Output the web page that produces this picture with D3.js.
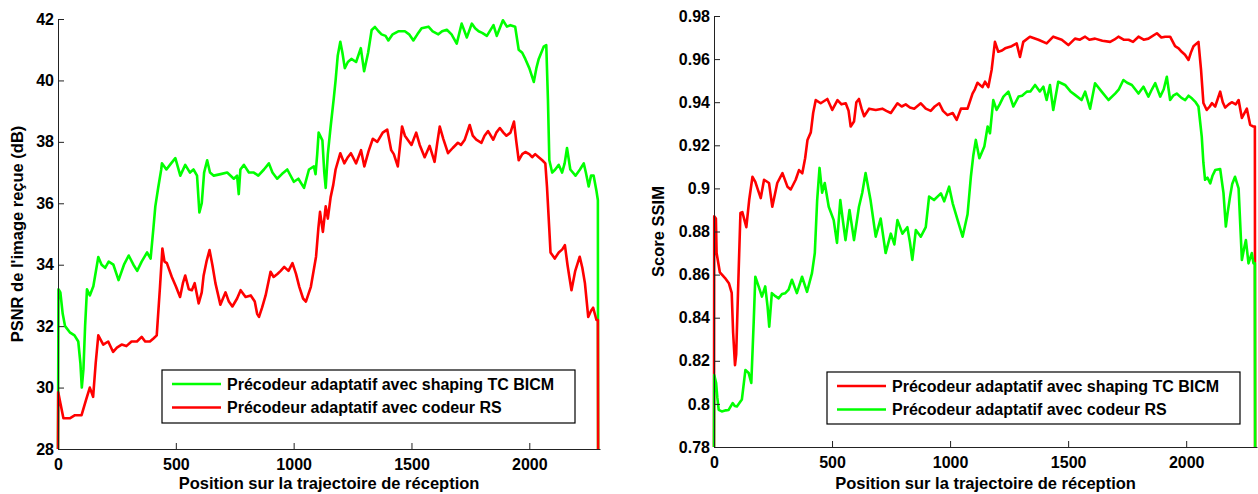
<!DOCTYPE html>
<html>
<head>
<meta charset="utf-8">
<script src="https://cdn.jsdelivr.net/npm/d3@7"></script>
<style>
	body { margin: 0; background: #fff; }
	text { font-family: "Liberation Sans", Arial, sans-serif; font-weight: bold; }
</style>
</head>
<body>
<div id="fig"></div>
<script>
// valeurs : [position, valeur]
var xTicks= [0, 500, 1000, 1500, 2000];
var psnrTicks= [28, 30, 32, 34, 36, 38, 40, 42];
var ssimTicks= [0.78, 0.80, 0.82, 0.84, 0.86, 0.88, 0.90, 0.92, 0.94, 0.96, 0.98];

var nomTC= "Précodeur adaptatif avec shaping TC BICM";
var nomRS= "Précodeur adaptatif avec codeur RS";

var psnrTC= [[0,28],[2,33.2],[10,33.1],[20,32.4],[30,32.0],[50,31.8],[70,31.7],[86,31.5],[95,30.8],[101,30.0],[108,30.6],[115,32.0],[123,33.2],[135,33.0],[150,33.3],[171,34.25],[185,34.0],[200,33.9],[215,34.1],[235,34.0],[257,33.5],[280,34.0],[300,34.3],[320,34.0],[336,33.8],[355,34.1],[378,34.4],[393,34.2],[405,35.2],[413,35.9],[425,36.5],[438,37.1],[441,37.3],[460,37.1],[480,37.3],[498,37.47],[519,36.9],[540,37.25],[560,37.0],[575,37.1],[590,36.9],[600,35.7],[610,36.0],[620,37.0],[633,37.4],[645,37.0],[661,36.9],[690,36.95],[718,37.0],[746,36.8],[760,36.9],[767,36.3],[774,37.1],[789,37.25],[810,37.0],[831,37.0],[850,36.9],[874,37.1],[895,37.3],[910,37.0],[930,36.8],[950,36.95],[973,37.1],[1001,36.7],[1020,36.8],[1044,36.5],[1065,37.1],[1086,37.2],[1093,36.95],[1100,37.6],[1106,38.3],[1122,38.05],[1130,37.0],[1136,36.5],[1145,37.6],[1157,38.5],[1170,39.4],[1178,40.0],[1187,40.8],[1198,41.26],[1207,40.9],[1217,40.4],[1230,40.6],[1245,40.7],[1265,40.6],[1285,41.05],[1299,40.3],[1316,40.9],[1331,41.64],[1345,41.74],[1360,41.6],[1373,41.5],[1390,41.45],[1402,41.3],[1420,41.5],[1444,41.6],[1472,41.6],[1490,41.5],[1508,41.3],[1525,41.5],[1543,41.7],[1572,41.75],[1590,41.6],[1614,41.5],[1630,41.6],[1650,41.65],[1670,41.5],[1692,41.2],[1713,41.85],[1735,41.4],[1756,41.85],[1770,41.7],[1785,41.6],[1800,41.55],[1820,41.45],[1848,41.8],[1862,41.45],[1888,41.96],[1905,41.75],[1920,41.8],[1940,41.75],[1955,41.0],[1970,40.9],[1983,40.7],[2000,40.4],[2019,39.95],[2030,40.4],[2040,40.7],[2061,41.1],[2072,41.15],[2079,39.4],[2085,37.4],[2097,37.0],[2110,37.1],[2125,37.25],[2139,37.0],[2150,37.3],[2160,37.8],[2174,37.1],[2196,36.9],[2215,37.1],[2231,37.3],[2240,37.0],[2252,36.55],[2262,36.9],[2273,36.9],[2285,36.4],[2291,36.1],[2292,28]];

var psnrRS= [[0,28],[1,29.85],[10,29.5],[23,29.0],[50,29.0],[72,29.1],[100,29.1],[119,29.6],[135,30.0],[149,29.7],[160,30.8],[171,31.7],[192,31.4],[213,31.5],[234,31.16],[250,31.3],[270,31.4],[290,31.35],[312,31.5],[335,31.5],[355,31.65],[370,31.5],[390,31.5],[405,31.6],[419,31.7],[433,33.3],[443,34.53],[452,34.1],[462,34.05],[483,33.6],[500,33.3],[518,32.95],[530,33.4],[540,33.65],[555,33.2],[568,33.17],[580,33.4],[597,32.74],[610,33.1],[618,33.65],[630,34.1],[643,34.48],[655,34.0],[668,33.4],[689,32.7],[711,33.1],[725,32.8],[740,32.64],[760,32.9],[775,33.17],[796,32.95],[818,33.0],[835,32.8],[845,32.4],[853,32.3],[866,32.6],[881,33.0],[902,33.77],[915,33.6],[931,33.7],[945,33.8],[960,33.93],[978,33.8],[995,34.05],[1010,33.7],[1024,33.28],[1040,32.9],[1052,32.8],[1073,33.28],[1095,34.26],[1105,35.2],[1112,35.72],[1124,35.07],[1136,35.9],[1145,35.5],[1157,36.2],[1168,36.6],[1178,37.1],[1198,37.63],[1215,37.3],[1230,37.5],[1243,37.63],[1265,37.3],[1286,37.73],[1300,37.2],[1318,37.7],[1336,38.1],[1355,38.0],[1378,38.3],[1397,38.4],[1414,37.73],[1425,37.6],[1442,37.2],[1460,38.5],[1472,38.2],[1484,38.07],[1500,37.9],[1520,38.3],[1535,37.9],[1556,37.5],[1577,37.87],[1598,37.35],[1610,38.0],[1620,38.5],[1635,38.1],[1655,37.63],[1675,37.8],[1697,37.97],[1710,37.9],[1726,38.07],[1747,38.55],[1760,38.2],[1775,38.07],[1797,37.97],[1810,38.2],[1825,38.35],[1847,38.07],[1860,38.3],[1875,38.45],[1890,38.3],[1903,38.2],[1920,38.3],[1935,38.66],[1945,38.0],[1955,37.4],[1970,37.6],[1983,37.67],[2000,37.6],[2012,37.5],[2025,37.6],[2040,37.5],[2055,37.4],[2068,37.3],[2075,36.54],[2085,35.13],[2090,34.4],[2108,34.2],[2125,34.4],[2140,34.5],[2151,34.64],[2162,34.0],[2170,33.6],[2179,33.17],[2195,33.8],[2214,34.26],[2225,33.9],[2236,33.4],[2250,32.3],[2262,32.5],[2271,32.6],[2285,32.2],[2291,32.2],[2292,28]];

var ssimTC= [[0,0.78],[1,0.887],[8,0.886],[11,0.87],[25,0.861],[46,0.8585],[63,0.856],[75,0.8515],[81,0.833],[89,0.818],[94,0.823],[102,0.853],[112,0.8886],[120,0.889],[137,0.882],[149,0.8946],[163,0.9054],[175,0.903],[184,0.900],[198,0.8955],[212,0.904],[233,0.9025],[247,0.8915],[268,0.9025],[290,0.9071],[311,0.9008],[325,0.8995],[346,0.904],[360,0.9085],[374,0.907],[386,0.914],[396,0.9225],[410,0.926],[420,0.935],[431,0.941],[452,0.9395],[480,0.9415],[501,0.9364],[523,0.941],[540,0.939],[558,0.9395],[570,0.936],[579,0.9287],[593,0.931],[603,0.94],[614,0.9415],[625,0.937],[636,0.9335],[657,0.937],[685,0.9364],[713,0.937],[730,0.936],[749,0.935],[777,0.9395],[795,0.938],[812,0.939],[830,0.9375],[848,0.937],[876,0.9395],[897,0.937],[918,0.936],[935,0.938],[954,0.9395],[970,0.936],[989,0.934],[1011,0.935],[1028,0.9318],[1046,0.937],[1074,0.937],[1095,0.944],[1105,0.946],[1116,0.949],[1137,0.947],[1148,0.9495],[1162,0.947],[1176,0.955],[1190,0.968],[1204,0.9634],[1220,0.964],[1233,0.965],[1261,0.966],[1282,0.9673],[1296,0.961],[1310,0.968],[1338,0.9704],[1374,0.969],[1409,0.9673],[1437,0.9704],[1473,0.969],[1501,0.9665],[1529,0.9695],[1550,0.969],[1572,0.9704],[1590,0.969],[1614,0.9695],[1645,0.9685],[1678,0.968],[1695,0.969],[1713,0.9704],[1735,0.969],[1756,0.969],[1775,0.968],[1798,0.9704],[1820,0.969],[1840,0.9695],[1876,0.972],[1895,0.970],[1911,0.9704],[1932,0.9704],[1953,0.966],[1968,0.965],[1981,0.9634],[1995,0.962],[2010,0.9596],[2020,0.963],[2031,0.966],[2052,0.968],[2063,0.955],[2073,0.9396],[2087,0.9364],[2100,0.938],[2109,0.9396],[2123,0.938],[2144,0.9449],[2155,0.94],[2165,0.9375],[2180,0.939],[2193,0.940],[2210,0.939],[2222,0.941],[2236,0.9327],[2257,0.937],[2271,0.9295],[2285,0.9287],[2291,0.9287],[2292,0.78]];

var ssimRS= [[0,0.78],[1,0.8134],[9,0.8097],[14,0.803],[20,0.7972],[33,0.7965],[50,0.797],[62,0.7972],[79,0.8004],[88,0.799],[97,0.7988],[118,0.802],[133,0.8157],[147,0.8143],[158,0.8097],[168,0.8376],[175,0.859],[189,0.8545],[203,0.8498],[217,0.8545],[227,0.845],[234,0.8358],[245,0.8514],[260,0.85],[274,0.849],[288,0.851],[302,0.8514],[316,0.853],[330,0.8576],[351,0.8514],[373,0.859],[394,0.852],[415,0.8607],[427,0.87],[437,0.8946],[447,0.9095],[458,0.898],[469,0.9025],[486,0.8915],[507,0.8853],[521,0.8747],[535,0.8946],[546,0.885],[557,0.876],[574,0.89],[593,0.876],[614,0.8915],[628,0.898],[642,0.9071],[663,0.8946],[685,0.8776],[706,0.886],[727,0.87],[749,0.879],[764,0.874],[777,0.8853],[798,0.879],[819,0.882],[830,0.875],[840,0.8668],[855,0.8807],[876,0.8776],[897,0.882],[911,0.8962],[932,0.8946],[961,0.8977],[975,0.894],[996,0.9008],[1011,0.8931],[1032,0.8853],[1053,0.8776],[1074,0.888],[1088,0.9054],[1098,0.915],[1109,0.9225],[1124,0.914],[1145,0.9194],[1159,0.9287],[1169,0.9256],[1183,0.941],[1197,0.9364],[1210,0.939],[1226,0.9426],[1247,0.9449],[1268,0.938],[1290,0.9426],[1305,0.943],[1325,0.9449],[1340,0.945],[1360,0.948],[1380,0.945],[1395,0.9472],[1409,0.941],[1423,0.948],[1437,0.9364],[1458,0.9495],[1487,0.948],[1510,0.945],[1529,0.9434],[1557,0.941],[1572,0.9449],[1593,0.937],[1614,0.9488],[1642,0.9449],[1671,0.941],[1699,0.944],[1715,0.946],[1734,0.9503],[1750,0.949],[1770,0.948],[1798,0.944],[1819,0.9472],[1840,0.9426],[1855,0.946],[1869,0.9488],[1890,0.9426],[1905,0.946],[1918,0.9518],[1932,0.941],[1945,0.943],[1960,0.944],[1980,0.942],[1996,0.941],[2010,0.943],[2024,0.9418],[2040,0.940],[2052,0.938],[2066,0.924],[2073,0.9118],[2080,0.904],[2090,0.905],[2102,0.9023],[2112,0.906],[2123,0.9085],[2144,0.909],[2158,0.8979],[2168,0.8823],[2176,0.889],[2186,0.8963],[2195,0.902],[2207,0.9054],[2222,0.9],[2236,0.8668],[2245,0.872],[2253,0.876],[2264,0.8652],[2278,0.870],[2285,0.8652],[2291,0.8652],[2292,0.78]];

var W= 1258, H= 494;
var vert= "#00ff00", rouge= "#ff0000";

var svg= d3.select("#fig").append("svg")
	.attr("width", W)
	.attr("height", H);

function panel(p) {
	var x= d3.scaleLinear().domain([0, 2300]).range([p.left, p.right]);
	var y= d3.scaleLinear().domain(p.yDomain).range([p.bottom, p.top]);

	var g= svg.append("g");

	var line= d3.line()
		.x(function(d) { return x(d[0]); })
		.y(function(d) { return y(d[1]); });

	// courbes (la deuxième par-dessus)
	p.series.forEach(function(s) {
		g.append("path")
			.datum(s.data)
			.attr("fill", "none")
			.attr("stroke", s.color)
			.attr("stroke-width", 2.6)
			.attr("stroke-linejoin", "round")
			.attr("d", line);
	});

	var ax= g.append("g")
		.attr("transform", "translate(0," + p.bottom + ")")
		.call(d3.axisBottom(x).tickValues(xTicks).tickSizeInner(-6).tickSizeOuter(0).tickPadding(10).tickFormat(d3.format("d")));
	var ay= g.append("g")
		.attr("transform", "translate(" + p.left + ",0)")
		.call(d3.axisLeft(y).tickValues(p.yTicks).tickSizeInner(-6).tickSizeOuter(0).tickPadding(4).tickFormat(p.fmt));

	[ax, ay].forEach(function(a) {
		a.select(".domain").attr("stroke", "#222");
		a.selectAll(".tick line").attr("stroke", "#222");
		a.selectAll("text").attr("fill", "#000").style("font-size", "16px");
	});

	g.append("text")
		.attr("x", (p.left+ p.right)/2)
		.attr("y", 489)
		.attr("text-anchor", "middle")
		.style("font-size", "16.5px")
		.text("Position sur la trajectoire de réception");

	g.append("text")
		.attr("transform", "translate(" + p.yLabelX + "," + ((p.top+ p.bottom)/2) + ") rotate(-90)")
		.attr("text-anchor", "middle")
		.attr("dy", "0.35em")
		.style("font-size", "16.5px")
		.text(p.yLabel);

	// légende
	var L= p.legend;
	g.append("rect")
		.attr("x", L.x).attr("y", L.y)
		.attr("width", L.w).attr("height", L.h)
		.attr("fill", "#fff")
		.attr("stroke", "#000")
		.attr("stroke-width", 1.2);

	p.series.forEach(function(s, i) {
		var yy= L.y+ 14+ i*23.5;
		g.append("line")
			.attr("x1", L.x+ 10).attr("x2", L.x+ 59)
			.attr("y1", yy).attr("y2", yy)
			.attr("stroke", s.color)
			.attr("stroke-width", 2.6);
		g.append("text")
			.attr("x", L.x+ 65)
			.attr("y", yy)
			.attr("dy", "0.35em")
			.style("font-size", "16px")
			.text(s.name);
	});
}

panel({
	left: 58, right: 600, top: 19, bottom: 449,
	yDomain: [28, 42], yTicks: psnrTicks,
	fmt: d3.format("d"),
	yLabel: "PSNR de l'image reçue (dB)", yLabelX: 17,
	legend: {x: 162, y: 370, w: 413, h: 53},
	series: [
		{name: nomTC, color: vert, data: psnrTC},
		{name: nomRS, color: rouge, data: psnrRS}
	]
});

panel({
	left: 714, right: 1257, top: 16, bottom: 447,
	yDomain: [0.78, 0.98], yTicks: ssimTicks,
	fmt: function(d) { return String(+d.toFixed(2)); },
	yLabel: "Score SSIM", yLabelX: 658,
	legend: {x: 827, y: 372, w: 413, h: 52},
	series: [
		{name: nomTC, color: rouge, data: ssimTC},
		{name: nomRS, color: vert, data: ssimRS}
	]
});
</script>
</body>
</html>
